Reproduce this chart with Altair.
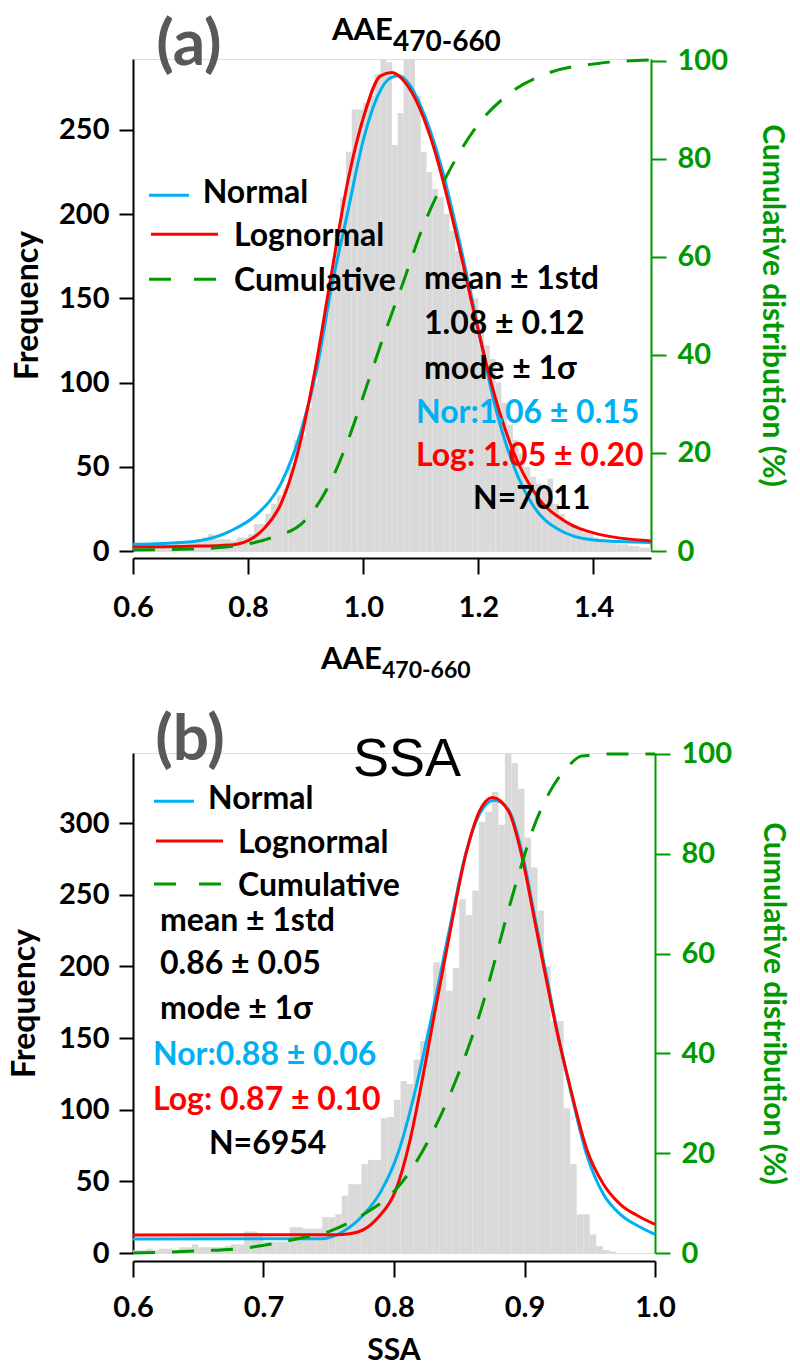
import altair as alt
import pandas as pd

BLUE = "#00B0F0"
RED = "#FF0000"
GREEN = "#009900"
GRAY = "#D9D9D9"
LABEL_GRAY = "#595959"
FONT = "Lato"

# ---------------- Panel (a): AAE470-660 ----------------
A_BIN_START = 0.60
A_BIN_WIDTH = 0.01
A_COUNTS = [2, 3, 2, 3, 3, 4, 3, 5, 4, 6,
            5, 7, 8, 10, 7, 7, 7, 6, 8, 8,
            10, 16, 16, 22, 28, 33, 37, 50, 66, 68,
            85, 100, 120, 140, 160, 185, 210, 237, 262, 262,
            266, 270, 283, 292, 290, 241, 260, 292, 292, 270,
            237, 225, 215, 210, 200, 190, 178, 168, 158, 150,
            135, 122, 114, 100, 88, 75, 66, 58, 50, 44,
            40, 38, 43, 28, 22, 18, 15, 13, 11, 10,
            8, 6, 6, 5, 4, 4, 3, 3, 2, 2]
A_NORMAL_X = [0.600, 0.650, 0.712, 0.770, 0.816, 0.857, 0.891, 0.920, 0.943, 0.973, 1.001, 1.025,
              1.048, 1.062, 1.080, 1.100, 1.135, 1.169, 1.204, 1.227, 1.262, 1.297, 1.338, 1.400, 1.500]
A_NORMAL_Y = [4.0, 4.5, 6, 12, 22, 40, 70, 109, 153, 201, 245, 270,
              281, 282, 277, 264, 229, 181, 125, 89, 50, 26, 13, 6.5, 5]
A_LOGN_X = [0.600, 0.700, 0.770, 0.799, 0.827, 0.857, 0.886, 0.915, 0.943, 0.973, 1.001, 1.030,
            1.050, 1.068, 1.088, 1.123, 1.158, 1.193, 1.227, 1.262, 1.303, 1.349, 1.408, 1.500]
A_LOGN_Y = [2.4, 2.8, 3.6, 6, 13, 28, 58, 105, 161, 219, 258, 282,
            284, 280, 270, 239, 193, 141, 94, 58, 32, 18, 10, 6]
A_CUM_X = [0.60, 0.70, 0.787, 0.84, 0.897, 0.943, 0.978, 1.007, 1.036, 1.07, 1.10, 1.147,
           1.193, 1.25, 1.321, 1.408, 1.50]
A_CUM_Y = [0.2, 0.4, 1.2, 2.7, 6, 14, 24, 34, 44, 55, 65, 77,
           86, 93, 97.5, 99.5, 100.2]
A_X_TICKS = [0.6, 0.8, 1.0, 1.2, 1.4]
A_Y_TICKS = [0, 50, 100, 150, 200, 250]

# ---------------- Panel (b): SSA ----------------
B_BIN_START = 0.600
B_BIN_WIDTH = 0.005
B_COUNTS = [2, 2, 3, 2, 3, 3, 2, 4, 4, 6,
            4, 4, 4, 4, 5, 6, 6, 15, 15, 14,
            8, 8, 8, 8, 18, 18, 17, 17, 17, 25,
            25, 27, 40, 48, 48, 62, 65, 65, 94, 95,
            107, 120, 118, 135, 148, 155, 203, 199, 183, 199,
            247, 236, 253, 301, 308, 322, 299, 349, 342, 324,
            290, 269, 239, 200, 162, 162, 101, 62, 27, 27,
            13, 5, 2, 1]
B_NORMAL_X = [0.600, 0.745, 0.761, 0.777, 0.790, 0.8036, 0.8167, 0.827, 0.8425, 0.855, 0.8653, 0.8767,
              0.888, 0.898, 0.908, 0.918, 0.926, 0.9344, 0.9475, 0.9605, 0.9734, 0.9867, 1.000]
B_NORMAL_Y = [9.8, 10, 15, 27, 43, 71, 115, 157, 226, 279, 306, 316,
              309, 280, 234, 188, 151, 117, 69, 41, 27, 19, 13]
B_LOGN_X = [0.600, 0.755, 0.766, 0.777, 0.788, 0.801, 0.8116, 0.8219, 0.830, 0.8425, 0.855, 0.8653,
            0.8755, 0.888, 0.898, 0.908, 0.918, 0.926, 0.9344, 0.9475, 0.9605, 0.9734, 0.9867, 1.000]
B_LOGN_Y = [12.6, 12.8, 13.5, 16.5, 25, 43, 76, 122, 162, 222, 278, 308,
            318, 308, 277, 231, 185, 150, 118, 73, 48, 34, 26, 20]
B_CUM_X = [0.600, 0.647, 0.686, 0.725, 0.751, 0.777, 0.798, 0.814, 0.830, 0.843, 0.856, 0.867,
           0.8777, 0.8853, 0.8957, 0.906, 0.9185, 0.9337, 0.9438, 0.969, 1.000]
B_CUM_Y = [0, 0.4, 1, 2.8, 4.4, 7.8, 11.8, 17, 24.4, 31.8, 40.5, 49,
           59, 66.5, 76, 84.6, 92, 97.6, 99.6, 100, 100]
B_X_TICKS = [0.6, 0.7, 0.8, 0.9, 1.0]
B_Y_TICKS = [0, 50, 100, 150, 200, 250, 300]
C_TICKS = [0, 20, 40, 60, 80, 100]

# ---------------- annotation layout (data coordinates) ----------------
A_TEXT = pd.DataFrame({
    "label": ["Normal", "Lognormal", "Cumulative", "mean ± 1std", "1.08 ± 0.12", "mode ± 1σ",
              "Nor:1.06 ± 0.15", "Log: 1.05 ± 0.20", "N=7011", "AAE", "470-660", "AAE", "470-660"],
    "x": [0.7211, 0.7755, 0.7755, 1.1056, 1.1056, 1.1056, 1.0917, 1.0917, 1.1907,
          0.9457, 1.0517, 0.9266, 1.0326],
    "y": [206.4, 180.9, 154.2, 155.4, 128.7, 102.0, 75.9, 50.4, 24.9,
          303.1, 296.6, -69.8, -75.2],
    "size": [32] * 9 + [31, 28, 31, 23],
    "color": ["black"] * 6 + [BLUE, RED, "black"] + ["black"] * 4,
})
A_CENTER = pd.DataFrame({"label": ["(a)"], "x": [0.6973], "y": [288.3], "size": [64], "color": [LABEL_GRAY]})
A_LEG_SOLID = pd.DataFrame({"x": [0.6278, 0.6313], "x2": [0.6973, 0.7477], "y": [211.2, 188.0], "color": [BLUE, RED]})
A_LEG_DASH = pd.DataFrame({"x": [0.6278], "x2": [0.7442], "y": [161.3]})

B_TEXT = pd.DataFrame({
    "label": ["Normal", "Lognormal", "Cumulative", "mean ± 1std", "0.86 ± 0.05", "mode ± 1σ",
              "Nor:0.88 ± 0.06", "Log: 0.87 ± 0.10", "N=6954"],
    "x": [0.6575, 0.6805, 0.6805, 0.6207, 0.6207, 0.6207, 0.6153, 0.6153, 0.6582],
    "y": [309.8, 279.1, 249.1, 224.7, 194.7, 163.3, 131.2, 99.8, 69.1],
    "size": [32] * 9,
    "color": ["black"] * 6 + [BLUE, RED, "black"],
})
B_CENTER = pd.DataFrame({"label": ["(b)", "SSA"], "x": [0.6437, 0.8], "y": [344.0, -74.5],
                         "size": [64, 30], "color": [LABEL_GRAY, "black"]})
B_TITLE = pd.DataFrame({"label": ["SSA"], "x": [0.7686], "y": [332.9]})
B_LEG_SOLID = pd.DataFrame({"x": [0.6161, 0.6176], "x2": [0.6467, 0.6690], "y": [315.4, 287.5], "color": [BLUE, RED]})
B_LEG_DASH = pd.DataFrame({"x": [0.6161], "x2": [0.6674], "y": [257.5]})


def bins_frame(start, width, counts):
    x0 = [round(start + i * width, 4) for i in range(len(counts))]
    return pd.DataFrame({"x0": x0, "x1": [round(v + width, 4) for v in x0],
                         "count": counts, "base": [0] * len(counts)})


def curve(xs, ys):
    return pd.DataFrame({"x": xs, "y": ys})


def build_panel(p):
    xs = alt.Scale(domain=p["xdom"], nice=False, zero=False)
    ys = alt.Scale(domain=p["ydom"], nice=False, zero=False)
    cs = alt.Scale(domain=p["cdom"], nice=False, zero=False)
    xax = alt.Axis(values=p["xticks"], format=".1f", title=None, offset=p["xoffset"], tickSize=16,
                   tickWidth=2, tickColor="black", domainColor="black", domainWidth=2,
                   labelFont=FONT, labelFontSize=29, labelFontWeight="bold", labelColor="black",
                   labelPadding=p["xlabpad"], labelFlush=False, labelOverlap=False, grid=False)
    yax = alt.Axis(values=p["yticks"], format="d", title="Frequency", titleFont=FONT, titleFontSize=32,
                   titleFontWeight="bold", titleColor="black", titleX=p["ytitlex"], titleY=p["height"] / 2,
                   titleAngle=270, titleAlign="center", titleBaseline="middle",
                   tickSize=14, tickWidth=2, tickColor="black", domainColor="black", domainWidth=2,
                   labelFont=FONT, labelFontSize=29, labelFontWeight="bold", labelColor="black",
                   labelPadding=10, labelOverlap=False, grid=False)
    cax = alt.Axis(orient="right", values=C_TICKS, format="d", title="Cumulative distribution (%)",
                   titleFont=FONT, titleFontSize=30, titleFontWeight="bold", titleColor=GREEN,
                   titleX=p["ctitlex"], titleY=p["height"] / 2, titleAngle=90, titleAlign="center",
                   titleBaseline="middle", tickSize=15, tickWidth=2, tickColor=GREEN,
                   domainColor=GREEN, domainWidth=2, labelFont=FONT, labelFontSize=29,
                   labelFontWeight="bold", labelColor=GREEN, labelPadding=11, labelOverlap=False, grid=False)

    def X(f):
        return alt.X(f, type="quantitative", scale=xs, axis=xax)

    def Y(f):
        return alt.Y(f, type="quantitative", scale=ys, axis=yax)

    layers = []
    if p.get("anchor"):
        layers.append(alt.Chart(pd.DataFrame({"k": [0]})).mark_rect(color="white").encode(
            x=alt.value(-132), x2=alt.value(-131), y=alt.value(-58), y2=alt.value(-57)))
    layers.append(alt.Chart(p["bins"]).mark_bar(color=GRAY).encode(
        x=X("x0"), x2=alt.X2("x1"), y=Y("count"), y2=alt.Y2("base")))
    layers.append(alt.Chart(p["normal"]).mark_line(color=BLUE, strokeWidth=3, interpolate="monotone").encode(
        x=X("x"), y=Y("y")))
    layers.append(alt.Chart(p["logn"]).mark_line(color=RED, strokeWidth=3, interpolate="monotone").encode(
        x=X("x"), y=Y("y")))
    layers.append(alt.Chart(p["leg_solid"]).mark_rule(strokeWidth=3).encode(
        x=X("x"), x2=alt.X2("x2"), y=Y("y"), color=alt.Color("color:N", scale=None)))
    layers.append(alt.Chart(p["leg_dash"]).mark_rule(strokeWidth=3, color=GREEN, strokeDash=[22, 23]).encode(
        x=X("x"), x2=alt.X2("x2"), y=Y("y")))
    layers.append(alt.Chart(p["text"]).mark_text(align="left", baseline="alphabetic", font=FONT,
                                                 fontWeight="bold").encode(
        x=X("x"), y=Y("y"), text="label:N", size=alt.Size("size:Q", scale=None),
        color=alt.Color("color:N", scale=None)))
    layers.append(alt.Chart(p["center"]).mark_text(align="center", baseline="alphabetic", font=FONT,
                                                   fontWeight="bold").encode(
        x=X("x"), y=Y("y"), text="label:N", size=alt.Size("size:Q", scale=None),
        color=alt.Color("color:N", scale=None)))
    if p.get("title") is not None:
        layers.append(alt.Chart(p["title"]).mark_text(align="left", baseline="alphabetic",
                                                      font="Liberation Sans", fontSize=54,
                                                      color="black").encode(
            x=X("x"), y=Y("y"), text="label:N"))
    left = alt.layer(*layers)
    cum = alt.Chart(p["cum"]).mark_line(color=GREEN, strokeWidth=3, strokeDash=[22, 17],
                                        interpolate="monotone").encode(
        x=X("x"), y=alt.Y("y", type="quantitative", scale=cs, axis=cax))
    return alt.layer(left, cum).resolve_scale(y="independent").properties(
        width=p["width"], height=p["height"])


panel_a = build_panel(dict(
    xdom=[0.6, 1.5], ydom=[0, 292], cdom=[0, 100.4], xticks=A_X_TICKS, yticks=A_Y_TICKS,
    xoffset=7, xlabpad=19, ytitlex=-106, ctitlex=120, width=518, height=492,
    bins=bins_frame(A_BIN_START, A_BIN_WIDTH, A_COUNTS),
    normal=curve(A_NORMAL_X, A_NORMAL_Y), logn=curve(A_LOGN_X, A_LOGN_Y), cum=curve(A_CUM_X, A_CUM_Y),
    leg_solid=A_LEG_SOLID, leg_dash=A_LEG_DASH, text=A_TEXT, center=A_CENTER, anchor=True))

panel_b = build_panel(dict(
    xdom=[0.6, 1.0], ydom=[0, 349], cdom=[0, 100.2], xticks=B_X_TICKS, yticks=B_Y_TICKS,
    xoffset=8, xlabpad=16, ytitlex=-109, ctitlex=117, width=522, height=500,
    bins=bins_frame(B_BIN_START, B_BIN_WIDTH, B_COUNTS),
    normal=curve(B_NORMAL_X, B_NORMAL_Y), logn=curve(B_LOGN_X, B_LOGN_Y), cum=curve(B_CUM_X, B_CUM_Y),
    leg_solid=B_LEG_SOLID, leg_dash=B_LEG_DASH, text=B_TEXT, center=B_CENTER, title=B_TITLE))

chart = alt.vconcat(panel_a, panel_b, spacing=202, bounds="flush", padding=0).configure_view(
    stroke=None).configure(background="white")

chart.save("out.html", embed_options={"renderer": "svg", "actions": False})
